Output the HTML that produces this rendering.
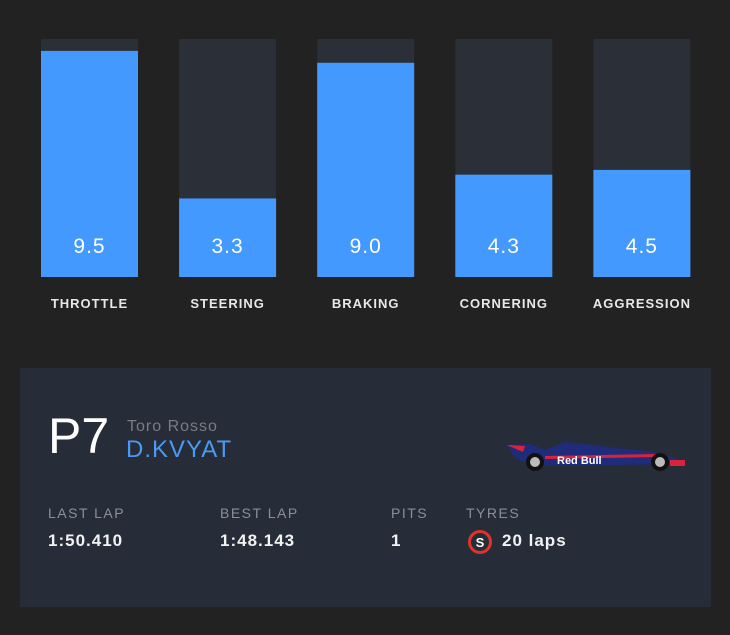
<!DOCTYPE html>
<html><head><meta charset="utf-8"><style>
body{margin:0;width:730px;height:635px;background:#222222;font-family:"Liberation Sans",sans-serif;overflow:hidden;position:relative}
.abs{position:absolute}
.lbl{position:absolute;top:296px;width:140px;text-align:center;color:#e8e8e8;font-size:13px;font-weight:bold;letter-spacing:1px}
.card{position:absolute;left:20px;top:368px;width:691px;height:239px;background:#272d38}
.h{position:absolute;top:505px;color:#8a8f98;font-size:14px;letter-spacing:1.5px}
.v{position:absolute;top:531px;color:#f2f2f2;font-size:17px;font-weight:bold;letter-spacing:1px}
</style></head><body>
<svg id="chart" class="abs" style="left:0;top:0" width="730" height="330"></svg>
<div id="labels"></div>
<div class="card">
 <div class="abs" style="left:28px;top:40px;color:#fff;font-size:50px;line-height:56px">P7</div>
 <div class="abs" style="left:107px;top:50px;color:#777c85;font-size:16px;letter-spacing:1px">Toro Rosso</div>
 <div class="abs" style="left:106px;top:68px;color:#4a9af5;font-size:24px;letter-spacing:1px">D.KVYAT</div>
 <svg class="abs" style="left:485px;top:60px" width="180" height="45">
  <path d="M2 17 L25 16 L40 22 L60 14 L80 16 L110 20 L150 24 L170 30 L176 36 L30 38 L10 30 Z" fill="#1f2c7a"/>
  <path d="M40 28 L150 26 L150 29 L40 31 Z" fill="#d8233c"/>
  <path d="M2 17 L20 18 L18 24 Z" fill="#d8233c"/>
  <text x="52" y="36" fill="#fff" font-size="11" font-weight="bold" font-family="Liberation Sans">Red Bull</text>
  <rect x="165" y="32" width="16" height="6" fill="#d8233c"/>
  <circle cx="30" cy="34" r="9" fill="#111"/><circle cx="30" cy="34" r="5" fill="#bbb"/>
  <circle cx="155" cy="34" r="9" fill="#111"/><circle cx="155" cy="34" r="5" fill="#bbb"/>
 </svg>
</div>
<div class="h" style="left:48px">LAST LAP</div>
<div class="v" style="left:48px">1:50.410</div>
<div class="h" style="left:220px">BEST LAP</div>
<div class="v" style="left:220px">1:48.143</div>
<div class="h" style="left:391px">PITS</div>
<div class="v" style="left:391px">1</div>
<div class="h" style="left:466px">TYRES</div>
<svg class="abs" style="left:467px;top:529px" width="26" height="26"><circle cx="13" cy="13" r="10.5" fill="none" stroke="#e0332a" stroke-width="3"/><text x="13" y="18" text-anchor="middle" fill="#fff" font-size="13" font-weight="bold" font-family="Liberation Sans">S</text></svg>
<div class="v" style="left:502px">20 laps</div>
<script>
const categories=["THROTTLE","STEERING","BRAKING","CORNERING","AGGRESSION"];
const values=[9.5,3.3,9.0,4.3,4.5];
const maxValue=10;
const svg=document.getElementById('chart');
const NS='http://www.w3.org/2000/svg';
const top0=39,bottom=277,bw=97;
function x(i){return 41+i*138.1;}
function y(v){return bottom-(v/maxValue)*(bottom-top0);}
const labels=document.getElementById('labels');
categories.forEach((c,i)=>{
 const t=document.createElementNS(NS,'rect');
 t.setAttribute('x',x(i));t.setAttribute('y',top0);t.setAttribute('width',bw);t.setAttribute('height',bottom-top0);t.setAttribute('fill','#2a2f38');
 
 
 svg.appendChild(t);
 const b=document.createElementNS(NS,'rect');
 b.setAttribute('x',x(i));b.setAttribute('y',y(values[i]));b.setAttribute('width',bw);b.setAttribute('height',bottom-y(values[i]));b.setAttribute('fill','#4499ff');
 
 
 svg.appendChild(b);
 const tx=document.createElementNS(NS,'text');
 tx.setAttribute('x',x(i)+bw/2);tx.setAttribute('y',253);tx.setAttribute('text-anchor','middle');tx.setAttribute('fill','#fff');tx.setAttribute('font-size','21');tx.setAttribute('font-family','Liberation Sans');tx.setAttribute('letter-spacing','1');
 tx.textContent=values[i].toFixed(1);
 
 
 svg.appendChild(tx);
 const l=document.createElement('div');
 l.className='lbl';l.style.left=(x(i)+bw/2-70)+'px';l.textContent=c;
 
 
 labels.appendChild(l);
});
</script>
</body></html>
